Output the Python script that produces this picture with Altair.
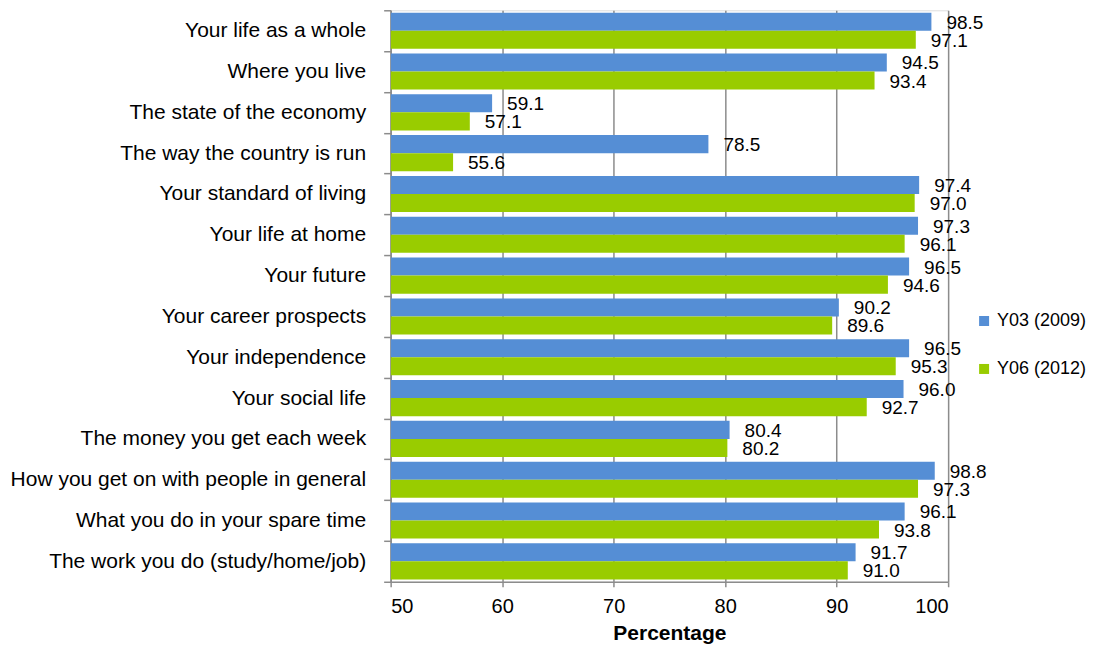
import altair as alt
import pandas as pd

categories = [
    "Your life as a whole",
    "Where you live",
    "The state of the economy",
    "The way the country is run",
    "Your standard of living",
    "Your life at home",
    "Your future",
    "Your career prospects",
    "Your independence",
    "Your social life",
    "The money you get each week",
    "How you get on with people in general",
    "What you do in your spare time",
    "The work you do (study/home/job)",
]
y03_2009 = [98.5, 94.5, 59.1, 78.5, 97.4, 97.3, 96.5, 90.2, 96.5, 96.0, 80.4, 98.8, 96.1, 91.7]
y06_2012 = [97.1, 93.4, 57.1, 55.6, 97.0, 96.1, 94.6, 89.6, 95.3, 92.7, 80.2, 97.3, 93.8, 91.0]
series = ["Y03 (2009)", "Y06 (2012)"]
colors = ["#558ED5", "#99CC00"]
x_ticks = [50, 60, 70, 80, 90, 100]

rows = []
for c, a, b in zip(categories, y03_2009, y06_2012):
    rows.append({"category": c, "series": series[0], "value": a})
    rows.append({"category": c, "series": series[1], "value": b})
df = pd.DataFrame(rows)

FONT = "Liberation Sans"
GRID = "#8c8c8c"

y_enc = alt.Y(
    "category:N",
    sort=categories,
    scale=alt.Scale(paddingInner=0, paddingOuter=0),
    axis=alt.Axis(
        title=None,
        tickBand="extent",
        tickSize=7,
        tickColor=GRID,
        domainColor=GRID,
        domainWidth=1.5,
        tickWidth=1.5,
        labelFontSize=21,
        labelFont=FONT,
        labelColor="#000000",
        labelPadding=18,
        labelLimit=500,
        grid=False,
    ),
)
yoff = alt.YOffset("series:N", sort=series, scale=alt.Scale(paddingOuter=0.13, paddingInner=0))
x_enc = alt.X(
    "value:Q",
    scale=alt.Scale(domain=[50, 100], clamp=True),
    axis=alt.Axis(
        values=x_ticks,
        title="Percentage",
        titleFont=FONT,
        titleFontSize=21,
        titleFontWeight="bold",
        titleColor="#000000",
        titlePadding=6,
        labelFont=FONT,
        labelFontSize=20,
        labelColor="#000000",
        labelPadding=10,
        tickSize=5,
        tickColor=GRID,
        tickWidth=1.5,
        domainColor=GRID,
        domainWidth=1.5,
        grid=True,
        gridColor=GRID,
        gridWidth=1.5,
    ),
)

bars = alt.Chart(df).mark_bar(clip=True).encode(
    x=x_enc,
    x2=alt.datum(50),
    y=y_enc,
    yOffset=yoff,
    color=alt.Color(
        "series:N",
        sort=series,
        scale=alt.Scale(domain=series, range=colors),
        legend=alt.Legend(
            title=None,
            orient="none",
            legendX=585,
            legendY=302,
            symbolType="square",
            symbolSize=100,
            symbolStrokeWidth=0,
            labelFont=FONT,
            labelFontSize=18,
            labelColor="#000000",
            labelOffset=4,
            rowPadding=30,
            padding=0,
        ),
    ),
)

labels = alt.Chart(df).mark_text(
    align="left", baseline="middle", dx=15, dy=1, font=FONT, fontSize=19, color="#000000"
).encode(
    x=alt.X("value:Q"),
    y=alt.Y("category:N", sort=categories),
    yOffset=alt.YOffset("series:N", sort=series),
    text=alt.Text("value:Q", format=".1f"),
)

chart = (
    alt.layer(bars, labels)
    .properties(
        width=558,
        height=572,
        autosize=alt.AutoSizeParams(type="none"),
        padding={"left": 383, "top": 2, "right": 140, "bottom": 62},
    )
    .configure_view(stroke=None)
    .configure(background="#ffffff")
)

chart.save("out.html", embed_options={"renderer": "svg", "actions": False})
